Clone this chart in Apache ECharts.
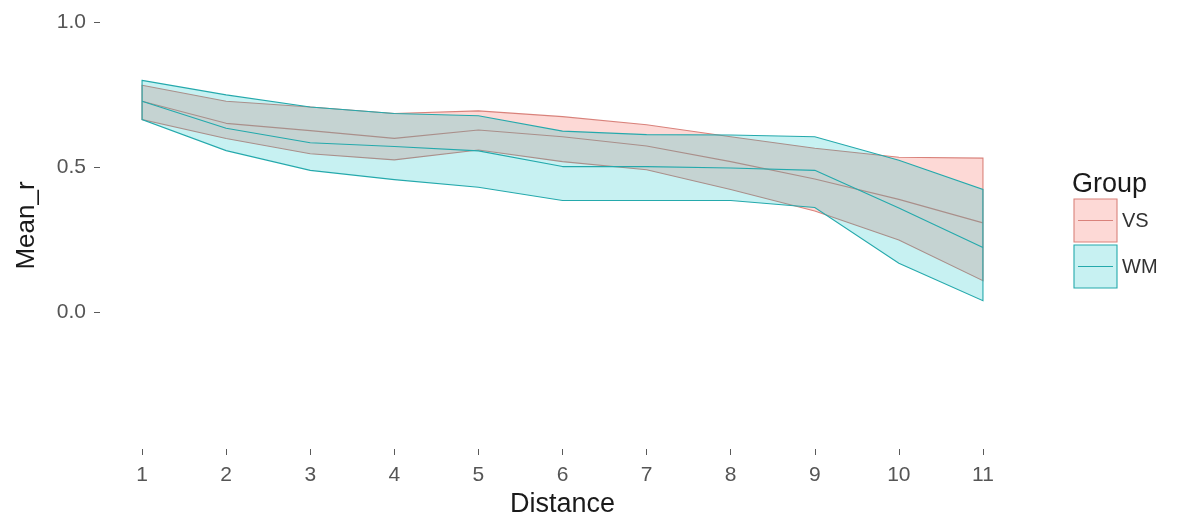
<!DOCTYPE html>
<html>
<head>
<meta charset="utf-8">
<script src="https://cdn.jsdelivr.net/npm/echarts@6/dist/echarts.min.js"></script>
<style>
html,body{margin:0;padding:0;background:#fff;}
#c{width:1177px;height:529px;}
</style>
</head>
<body>
<div id="c"></div>
<script>
// ---- data ----
const distance = [1, 2, 3, 4, 5, 6, 7, 8, 9, 10, 11];
const vsUpper = [0.783, 0.728, 0.708, 0.686, 0.695, 0.675, 0.647, 0.606, 0.566, 0.535, 0.532];
const vsMean  = [0.728, 0.652, 0.627, 0.600, 0.629, 0.606, 0.574, 0.520, 0.460, 0.390, 0.309];
const vsLower = [0.665, 0.600, 0.547, 0.526, 0.560, 0.520, 0.492, 0.424, 0.350, 0.250, 0.110];
const wmUpper = [0.800, 0.750, 0.708, 0.686, 0.678, 0.625, 0.613, 0.612, 0.606, 0.525, 0.424];
const wmMean  = [0.728, 0.635, 0.585, 0.572, 0.557, 0.503, 0.503, 0.498, 0.490, 0.360, 0.224];
const wmLower = [0.665, 0.558, 0.490, 0.458, 0.432, 0.386, 0.386, 0.386, 0.362, 0.170, 0.041];
const yTicks = [0, 0.5, 1.0];
const yTickLabels = ['0.0', '0.5', '1.0'];
const groups = ['VS', 'WM'];

const VS_FILL = 'rgba(248,118,109,0.28)';
const WM_FILL = 'rgba(0,191,196,0.22)';
const VS_LINE = '#D9827B';
const WM_LINE = '#24A9AC';

function ribbon(name, upper, lower, fill, stroke, z) {
  return {
    type: 'custom',
    name: name,
    coordinateSystem: 'cartesian2d',
    silent: true,
    z: z,
    data: [[distance[0], upper[0]]],
    renderItem: function (params, api) {
      const pts = [];
      for (let i = 0; i < distance.length; i++) pts.push(api.coord([distance[i], upper[i]]));
      for (let i = distance.length - 1; i >= 0; i--) pts.push(api.coord([distance[i], lower[i]]));
      return {
        type: 'polygon',
        shape: { points: pts },
        style: { fill: fill, stroke: stroke, lineWidth: 1.1 }
      };
    }
  };
}
function meanLine(name, vals, color, z) {
  return {
    type: 'line',
    name: name,
    z: z,
    silent: true,
    showSymbol: false,
    data: distance.map((d, i) => [d, vals[i]]),
    lineStyle: { color: color, width: 1.1 }
  };
}

const chart = echarts.init(document.getElementById('c'), null, { renderer: 'canvas' });
const fontFam = '"Liberation Sans", Arial, sans-serif';
chart.setOption({
  animation: false,
  backgroundColor: '#ffffff',
  grid: { left: 100, right: 152, top: 2, bottom: 80, containLabel: false },
  xAxis: {
    type: 'value',
    min: 0.5, max: 11.5,
    name: 'Distance',
    nameLocation: 'middle',
    nameGap: 36,
    nameTextStyle: { fontFamily: fontFam, fontSize: 27, color: '#1a1a1a' },
    axisLine: { show: false, onZero: false },
    axisTick: { show: true, length: 6, customValues: distance, lineStyle: { color: '#5a5a5a', width: 1 } },
    axisLabel: { customValues: distance, fontFamily: fontFam, fontSize: 21, color: '#555', margin: 16 },
    splitLine: { show: false }
  },
  yAxis: {
    type: 'value',
    min: -0.47, max: 1.07,
    name: 'Mean_r',
    nameLocation: 'middle',
    nameGap: 60,
    nameRotate: 90,
    nameTextStyle: { fontFamily: fontFam, fontSize: 26, color: '#1a1a1a' },
    axisLine: { show: false, onZero: false },
    axisTick: { show: true, length: 6, customValues: yTicks, lineStyle: { color: '#5a5a5a', width: 1 } },
    axisLabel: {
      customValues: yTicks, fontFamily: fontFam, fontSize: 21, color: '#555', margin: 14,
      formatter: function (v) { const i = yTicks.indexOf(v); return i >= 0 ? yTickLabels[i] : ''; }
    },
    splitLine: { show: false }
  },
  series: [
    ribbon(groups[0], vsUpper, vsLower, VS_FILL, VS_LINE, 1),
    meanLine(groups[0], vsMean, VS_LINE, 2),
    ribbon(groups[1], wmUpper, wmLower, WM_FILL, WM_LINE, 3),
    meanLine(groups[1], wmMean, WM_LINE, 4)
  ],
  graphic: [
    { type: 'text', style: { x: 1072, y: 185, text: 'Group', verticalAlign: 'middle', font: '27px ' + fontFam, fill: '#1a1a1a' } },
    { type: 'rect', shape: { x: 1074, y: 199, width: 43, height: 43 }, style: { fill: VS_FILL, stroke: VS_LINE, lineWidth: 1.1 } },
    { type: 'line', shape: { x1: 1078, y1: 220.5, x2: 1113, y2: 220.5 }, style: { stroke: VS_LINE, lineWidth: 1.1 } },
    { type: 'text', style: { x: 1122, y: 221, text: groups[0], verticalAlign: 'middle', font: '20px ' + fontFam, fill: '#333' } },
    { type: 'rect', shape: { x: 1074, y: 245, width: 43, height: 43 }, style: { fill: WM_FILL, stroke: WM_LINE, lineWidth: 1.1 } },
    { type: 'line', shape: { x1: 1078, y1: 266.5, x2: 1113, y2: 266.5 }, style: { stroke: WM_LINE, lineWidth: 1.1 } },
    { type: 'text', style: { x: 1122, y: 267, text: groups[1], verticalAlign: 'middle', font: '20px ' + fontFam, fill: '#333' } }
  ]
});
</script>
</body>
</html>
